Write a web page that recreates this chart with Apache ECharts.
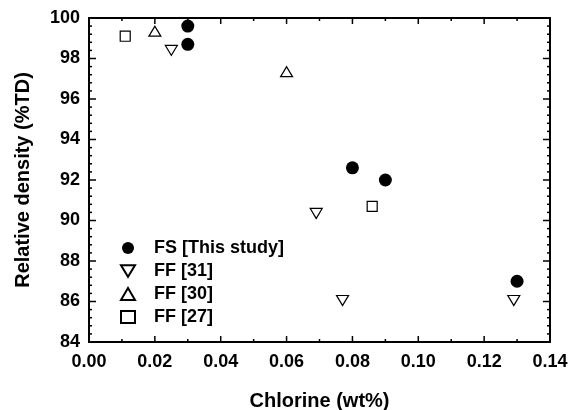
<!DOCTYPE html>
<html>
<head>
<meta charset="utf-8">
<script src="https://cdn.jsdelivr.net/npm/echarts@6/dist/echarts.min.js"></script>
<style>
  html, body { margin: 0; padding: 0; background: #fff; }
  #chart { width: 569px; height: 410px; }
</style>
</head>
<body>
<div id="chart"></div>
<script>
// data: [chlorine wt%, relative density %TD]
var fsThisStudy = [[0.030, 99.6], [0.030, 98.7], [0.080, 92.6], [0.090, 92.0], [0.130, 87.0]];
var ff31 = [[0.025, 98.4], [0.069, 90.35], [0.077, 86.05], [0.129, 86.05]];
var ff30 = [[0.020, 99.35], [0.060, 97.35]];
var ff27 = [[0.011, 99.1], [0.086, 90.7]];

var seriesNames = ['FS [This study]', 'FF [31]', 'FF [30]', 'FF [27]'];
var xTicks = { min: 0, max: 0.14, step: 0.02, minorStep: 0.01 };
var yTicks = { min: 84, max: 100, step: 2, minorStep: 0.4 };

var font = 'Liberation Sans, Arial, sans-serif';
var downTri = 'path://M0,0L12,0L6,10Z';

function range(min, max, step) {
    var out = [];
    var n = Math.round((max - min) / step);
    for (var i = 0; i <= n; i++) out.push(+(min + i * step).toFixed(6));
    return out;
}

var axisStyle = {
    axisLine: { show: true, onZero: false, lineStyle: { color: '#000', width: 2 } },
    axisTick: { show: false },
    minorTick: { show: false },
    splitLine: { show: false }
};

var xMain = Object.assign({}, axisStyle, {
    type: 'value', position: 'bottom',
    min: xTicks.min, max: xTicks.max, interval: xTicks.step,
    name: 'Chlorine (wt%)', nameLocation: 'middle', nameGap: 49,
    nameTextStyle: { fontFamily: font, fontWeight: 'bold', fontSize: 20, color: '#000' },
    axisLabel: {
        margin: 11, fontFamily: font, fontWeight: 'bold', fontSize: 18, color: '#000',
        formatter: function (v) { return v.toFixed(2); }
    }
});
var xTop = Object.assign({}, axisStyle, {
    type: 'value', position: 'top',
    min: xTicks.min, max: xTicks.max, interval: xTicks.step,
    axisLabel: { show: false }
});
var yMain = Object.assign({}, axisStyle, {
    type: 'value', position: 'left',
    min: yTicks.min, max: yTicks.max, interval: yTicks.step,
    name: 'Relative density (%TD)', nameLocation: 'middle', nameGap: 56,
    nameTextStyle: { fontFamily: font, fontWeight: 'bold', fontSize: 20, color: '#000' },
    axisLabel: { margin: 9, fontFamily: font, fontWeight: 'bold', fontSize: 18, color: '#000' }
});
var yRight = Object.assign({}, axisStyle, {
    type: 'value', position: 'right',
    min: yTicks.min, max: yTicks.max, interval: yTicks.step,
    axisLabel: { show: false }
});

var hollow = { color: '#fff', borderColor: '#000', borderWidth: 1.2, opacity: 1 };

var chart = echarts.init(document.getElementById('chart'));
var option = {
    backgroundColor: '#fff',
    animation: false,
    grid: { left: 89, right: 19, top: 18, bottom: 68, outerBoundsMode: 'none' },
    xAxis: [xMain, xTop],
    yAxis: [yMain, yRight],
    legend: {
        orient: 'vertical',
        left: 115, top: 234,
        itemWidth: 14, itemHeight: 12, itemGap: 5,
        data: seriesNames,
        textStyle: {
            fontFamily: font, fontWeight: 'bold', fontSize: 18, color: '#000',
            lineHeight: 18, padding: [0, 0, 0, 14]
        }
    },
    series: [
        { name: seriesNames[0], type: 'scatter', data: fsThisStudy, symbol: 'circle', symbolSize: 13,
          itemStyle: { color: '#000', opacity: 1 }, z: 3 },
        { name: seriesNames[1], type: 'scatter', data: ff31, symbol: downTri, symbolSize: [12, 10],
          itemStyle: hollow, z: 3 },
        { name: seriesNames[2], type: 'scatter', data: ff30, symbol: 'triangle', symbolSize: [12, 10],
          itemStyle: hollow, z: 3 },
        { name: seriesNames[3], type: 'scatter', data: ff27, symbol: 'rect', symbolSize: 10,
          itemStyle: hollow, z: 3 }
    ]
};
chart.setOption(option);

// inward tick marks, placed through the axes' own scale (convertToPixel)
function px(x, y) {
    return chart.convertToPixel({ xAxisIndex: 0, yAxisIndex: 0 }, [x, y]);
}
var ticks = [];
function addTick(x, y, dx, dy) {
    var p = px(x, y);
    ticks.push({
        type: 'line', z: 100, silent: true,
        shape: { x1: p[0], y1: p[1], x2: p[0] + dx, y2: p[1] + dy },
        style: { stroke: '#000', lineWidth: 1.5 }
    });
}
range(xTicks.min, xTicks.max, xTicks.minorStep).forEach(function (v, i) {
    var len = i % 2 == 0 ? 6 : 3;
    addTick(v, yTicks.min, 0, -len);
    addTick(v, yTicks.max, 0, len);
});
range(yTicks.min, yTicks.max, yTicks.minorStep).forEach(function (v, i) {
    var len = i % 5 == 0 ? 7 : 3;
    addTick(xTicks.min, v, len, 0);
    addTick(xTicks.max, v, -len, 0);
});
chart.setOption({ graphic: ticks });
</script>
</body>
</html>
